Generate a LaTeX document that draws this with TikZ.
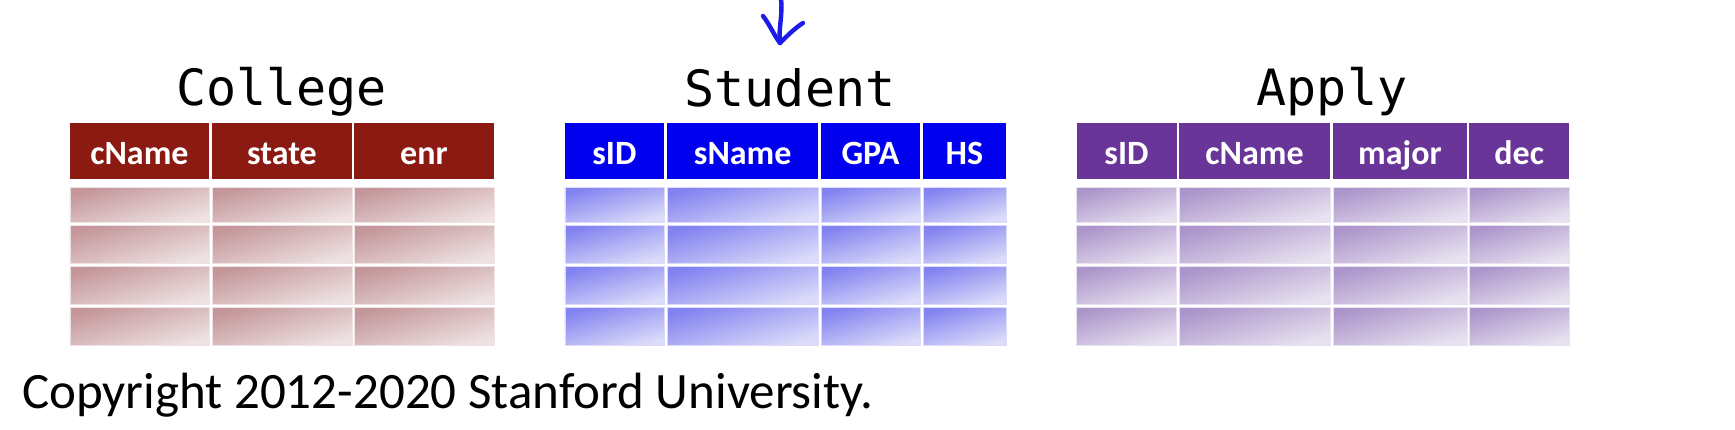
\documentclass[tikz,border=0pt]{standalone}
\usepackage{fontspec}
\setmainfont{Carlito}
\newfontfamily\monofont{DejaVu Sans Mono}
\definecolor{colhdr}{HTML}{8B1A12}
\definecolor{stuhdr}{HTML}{0000EE}
\definecolor{apphdr}{HTML}{6A3598}
\definecolor{coldark}{HTML}{C4969A}
\definecolor{collight}{HTML}{EEE2E2}
\definecolor{studark}{HTML}{8282F0}
\definecolor{stulight}{HTML}{DCDCFA}
\definecolor{appdark}{HTML}{AC95CB}
\definecolor{applight}{HTML}{E8E2F0}
\definecolor{arrowblue}{HTML}{1C1CE6}
\begin{document}
\begin{tikzpicture}[x=1pt,y=-1pt,
  hdr/.style={rectangle, inner sep=0pt, anchor=north west, text=white,
    font=\bfseries\fontsize{34}{34}\selectfont, text height=28pt, text depth=0pt,
    minimum height=55.8pt},
  cellbox/.style={rectangle, inner sep=0pt, anchor=north west, line width=0.8pt},
  colcell/.style={cellbox, draw=collight, top color=coldark, bottom color=collight, shading angle=16},
  stucell/.style={cellbox, draw=stulight, top color=studark, bottom color=stulight, shading angle=16},
  appcell/.style={cellbox, draw=applight, top color=appdark, bottom color=applight, shading angle=16},
  title/.style={font=\monofont\fontsize{50}{50}\selectfont, anchor=base, inner sep=0pt},
  handarrow/.style={draw=arrowblue, line width=4.4pt, line cap=round, line join=round},
]
\useasboundingbox (0,0) rectangle (1735,429);

% ---------- College ----------
\node[title] (tcol) at (281.5,105) {College};
\foreach \xa/\xb/\lab [count=\i] in {69.5/209/cName, 212/351.5/state, 354/493.5/enr}{
  \node[hdr, fill=colhdr, minimum width={\xb pt-\xa pt}] (col-h\i) at (\xa,122.5) {\lab};
  \foreach \ya/\yb [count=\r] in {187/222, 225/263, 266/304, 306.7/345}{
    \node[colcell, minimum width={\xb pt-\xa pt}, minimum height={\yb pt-\ya pt}]
      (col-\r-\i) at (\xa,\ya) {};
  }
}

% ---------- Student ----------
\node[title] (tstu) at (790,106) {Student};
\foreach \xa/\xb/\lab [count=\i] in {564.5/664/sID, 667/818/sName, 820.7/920/GPA, 922.7/1005.7/HS}{
  \node[hdr, fill=stuhdr, minimum width={\xb pt-\xa pt}] (stu-h\i) at (\xa,122.5) {\lab};
  \foreach \ya/\yb [count=\r] in {187/222, 225/263, 266/304, 306.7/345}{
    \node[stucell, minimum width={\xb pt-\xa pt}, minimum height={\yb pt-\ya pt}]
      (stu-\r-\i) at (\xa,\ya) {};
  }
}

% ---------- Apply ----------
\node[title] (tapp) at (1332,105) {Apply};
\foreach \xa/\xb/\lab [count=\i] in {1076.3/1176.3/sID, 1178.7/1330/cName, 1332.7/1466.7/major, 1469/1569/dec}{
  \node[hdr, fill=apphdr, minimum width={\xb pt-\xa pt}] (app-h\i) at (\xa,122.5) {\lab};
  \foreach \ya/\yb [count=\r] in {187/222, 225/263, 266/304, 306.7/345}{
    \node[appcell, minimum width={\xb pt-\xa pt}, minimum height={\yb pt-\ya pt}]
      (app-\r-\i) at (\xa,\ya) {};
  }
}

% ---------- hand-drawn arrow ----------
\coordinate (arT) at (781,-1);
\coordinate (arTip) at (780,43);
\coordinate (arL) at (763,16);
\coordinate (arR) at (803,23);
\draw[handarrow] (arT) .. controls (783,15) and (778,30) .. (arTip);
\draw[handarrow] (arL) .. controls (770,25) and (775,37) .. (arTip)
  .. controls (787,36) and (795,28) .. (arR);

% ---------- copyright ----------
\node[anchor=base west, inner sep=0pt, font=\fontsize{51}{51}\selectfont] (copy) at (22,408)
  {Copyright 2012-2020 Stanford University.};
\end{tikzpicture}
\end{document}
